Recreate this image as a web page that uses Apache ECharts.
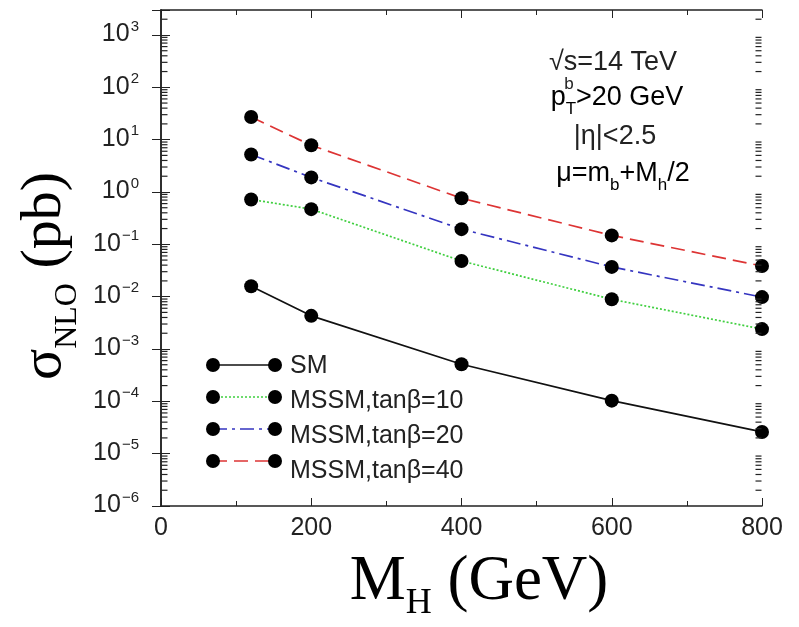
<!DOCTYPE html>
<html>
<head>
<meta charset="utf-8">
<script src="https://cdn.jsdelivr.net/npm/echarts@6/dist/echarts.min.js"></script>
<style>html,body{margin:0;padding:0;background:#fff;}#chart{width:799px;height:627px;}</style>
</head>
<body>
<div id="chart"></div>
<script>
// ---- data ----
const massValues = [120, 200, 400, 600, 800];
const smValues   = [0.0158, 0.0043, 0.00051, 0.000103, 0.000026];
const tb10Values = [0.72, 0.47, 0.048, 0.0089, 0.0024];
const tb20Values = [5.2, 1.9, 0.195, 0.037, 0.0098];
const tb40Values = [27, 7.8, 0.76, 0.148, 0.0385];
const seriesNames = ['SM', 'MSSM,tanβ=10', 'MSSM,tanβ=20', 'MSSM,tanβ=40'];
const xTickLabels = [0, 200, 400, 600, 800];
const yDecades = [-6, -5, -4, -3, -2, -1, 0, 1, 2, 3];
const annotationLines = ['√s=14 TeV', '>20 GeV', '|η|<2.5', 'μ=m'];

const SANS = 'Liberation Sans, Arial, Helvetica, sans-serif';
const SERIF = 'Liberation Serif, Times New Roman, serif';
const lineColors = ['#111111', '#3fcf3f', '#3535c0', '#dd3434'];
const lineTypes = ['solid', [2, 2], [14, 5, 3, 5], [14, 7]];
const valueSets = [smValues, tb10Values, tb20Values, tb40Values];

// minor log tick positions (2..9 x 10^n) inside the plot range
const yMin = 1e-6, yMax = 3000;
const minorTickLeft = [], minorTickRight = [];
yDecades.forEach(function (e) {
  for (let k = 2; k <= 9; k++) {
    const v = k * Math.pow(10, e);
    if (v < yMax) { minorTickLeft.push([0, v]); minorTickRight.push([800, v]); }
  }
});

const chart = echarts.init(document.getElementById('chart'), null, {renderer: 'canvas'});

function pairs(vals) { return massValues.map(function (m, i) { return [m, vals[i]]; }); }

const series = seriesNames.map(function (name, i) {
  return {
    name: name,
    type: 'line',
    data: pairs(valueSets[i]),
    symbol: 'circle',
    symbolSize: 14,
    showSymbol: true,
    itemStyle: {color: '#000'},
    lineStyle: {color: lineColors[i], width: 1.7, type: lineTypes[i]},
    emphasis: {disabled: true},
    z: 3
  };
});

function tickSeries(name, data, offset) {
  return {
    name: name,
    type: 'scatter',
    data: data,
    symbol: 'rect',
    symbolSize: [6, 1.2],
    symbolOffset: [offset, 0],
    itemStyle: {color: '#222', opacity: 1},
    clip: false,
    silent: true,
    emphasis: {disabled: true},
    z: 12
  };
}
series.push(tickSeries('minorLeft', minorTickLeft, 3.5));
series.push(tickSeries('minorRight', minorTickRight, -3.5));

function yLabel(v) {
  const lg = Math.log10(v);
  const e = Math.round(lg);
  if (Math.abs(lg - e) > 1e-6 || yDecades.indexOf(e) < 0) return '';
  return '{b|10}{s|' + (e < 0 ? '−' + (-e) : e) + '}';
}

const axisLine = {show: true, lineStyle: {color: '#222', width: 1.5}};

// legend samples (decorative icons)
const legendRowsY = [365, 397, 429, 461];
const legendGraphics = [];
seriesNames.forEach(function (n, i) {
  const y = legendRowsY[i];
  legendGraphics.push({type: 'line', shape: {x1: 213, y1: y, x2: 275, y2: y},
    style: {stroke: lineColors[i], lineWidth: 1.7, lineDash: lineTypes[i] === 'solid' ? null : lineTypes[i]}, z: 10});
  legendGraphics.push({type: 'circle', shape: {cx: 213, cy: y, r: 7}, style: {fill: '#000'}, z: 11});
  legendGraphics.push({type: 'circle', shape: {cx: 275, cy: y, r: 7}, style: {fill: '#000'}, z: 11});
});

const annStyleRich = {
  n: {fontSize: 27, fontFamily: SANS, color: '#222', verticalAlign: 'bottom', padding: [0, 0, 6, 0]},
  sub: {fontSize: 17, fontFamily: SANS, color: '#222', verticalAlign: 'bottom'}
};

const option = {
  backgroundColor: '#fff',
  animation: false,
  grid: {left: 161, right: 37, top: 10, bottom: 121, containLabel: false},
  legend: {
    orient: 'vertical',
    left: 210, top: 349,
    data: seriesNames,
    itemWidth: 70, itemHeight: 22, itemGap: 10,
    icon: 'rect',
    itemStyle: {color: 'rgba(0,0,0,0)', borderWidth: 0},
    lineStyle: {color: 'rgba(0,0,0,0)'},
    selectedMode: false,
    textStyle: {fontSize: 25, fontFamily: SANS, color: '#222', lineHeight: 22}
  },
  xAxis: [{
    type: 'value', min: 0, max: 800, interval: 200,
    axisLine: axisLine,
    axisTick: {show: true, inside: true, length: 8, lineStyle: {color: '#222'}},
    minorTick: {show: true, splitNumber: 2, length: 5, lineStyle: {color: '#222'}},
    splitLine: {show: false},
    axisLabel: {fontSize: 25, fontFamily: SANS, color: '#222', margin: 10,
      formatter: function (v) { return xTickLabels.indexOf(v) >= 0 ? String(v) : ''; }}
  }, {
    type: 'value', min: 0, max: 800, interval: 200, position: 'top',
    axisLine: axisLine,
    axisTick: {show: true, inside: true, length: 8, lineStyle: {color: '#222'}},
    minorTick: {show: true, splitNumber: 2, length: 5, lineStyle: {color: '#222'}},
    splitLine: {show: false}, axisLabel: {show: false}
  }],
  yAxis: [{
    type: 'log', logBase: 10, min: yMin, max: yMax, interval: 1,
    axisLine: axisLine,
    axisTick: {show: true, inside: true, length: 9, lineStyle: {color: '#222'}},
    splitLine: {show: false},
    axisLabel: {
      margin: 22,
      formatter: yLabel,
      rich: {
        b: {fontSize: 25, fontFamily: SANS, color: '#222', verticalAlign: 'bottom', padding: [0, 0, 4, 0]},
        s: {fontSize: 15, fontFamily: SANS, color: '#222', verticalAlign: 'bottom', padding: [0, 0, 17, 1]}
      }
    }
  }, {
    type: 'log', logBase: 10, min: yMin, max: yMax, interval: 1, position: 'right',
    axisLine: axisLine,
    axisTick: {show: true, inside: true, length: 9, lineStyle: {color: '#222'}},
    splitLine: {show: false}, axisLabel: {show: false}
  }],
  graphic: [
    {type: 'text', x: 50, y: 276, rotation: Math.PI / 2, z: 20,
      style: {text: '{m|σ}{sub|NLO}{m| (pb)}', textAlign: 'center', textVerticalAlign: 'middle',
        rich: {
          m: {fontSize: 58, fontFamily: SERIF, color: '#111', verticalAlign: 'bottom', padding: [0, 0, 10, 0]},
          sub: {fontSize: 32, fontFamily: SERIF, color: '#111', verticalAlign: 'bottom'}
        }}},
    {type: 'text', x: 479, y: 586, z: 20,
      style: {text: '{m|M}{sub|H}{m| (GeV)}', textAlign: 'center', textVerticalAlign: 'middle',
        rich: {
          m: {fontSize: 63, fontFamily: SERIF, color: '#111', verticalAlign: 'bottom', padding: [0, 0, 8, 0]},
          sub: {fontSize: 36, fontFamily: SERIF, color: '#111', verticalAlign: 'bottom'}
        }}},
    {type: 'text', x: 613, y: 63, z: 20,
      style: {text: annotationLines[0], textAlign: 'center', textVerticalAlign: 'middle', fontSize: 27, fontFamily: SANS, fill: '#222'}},
    {type: 'text', x: 617, y: 101, z: 20,
      style: {text: '{n|p}{sub|T}{n|' + annotationLines[1] + '}', textAlign: 'center', textVerticalAlign: 'middle', rich: annStyleRich}},
    {type: 'text', x: 569, y: 84, z: 20,
      style: {text: 'b', textAlign: 'center', textVerticalAlign: 'middle', fontSize: 17, fontFamily: SANS, fill: '#222'}},
    {type: 'text', x: 615, y: 137, z: 20,
      style: {text: annotationLines[2], textAlign: 'center', textVerticalAlign: 'middle', fontSize: 27, fontFamily: SANS, fill: '#222'}},
    {type: 'text', x: 623, y: 177, z: 20,
      style: {text: '{n|' + annotationLines[3] + '}{sub|b}{n|+M}{sub|h}{n|/2}', textAlign: 'center', textVerticalAlign: 'middle', rich: annStyleRich}}
  ].concat(legendGraphics),
  series: series
};
chart.setOption(option);
</script>
</body>
</html>
